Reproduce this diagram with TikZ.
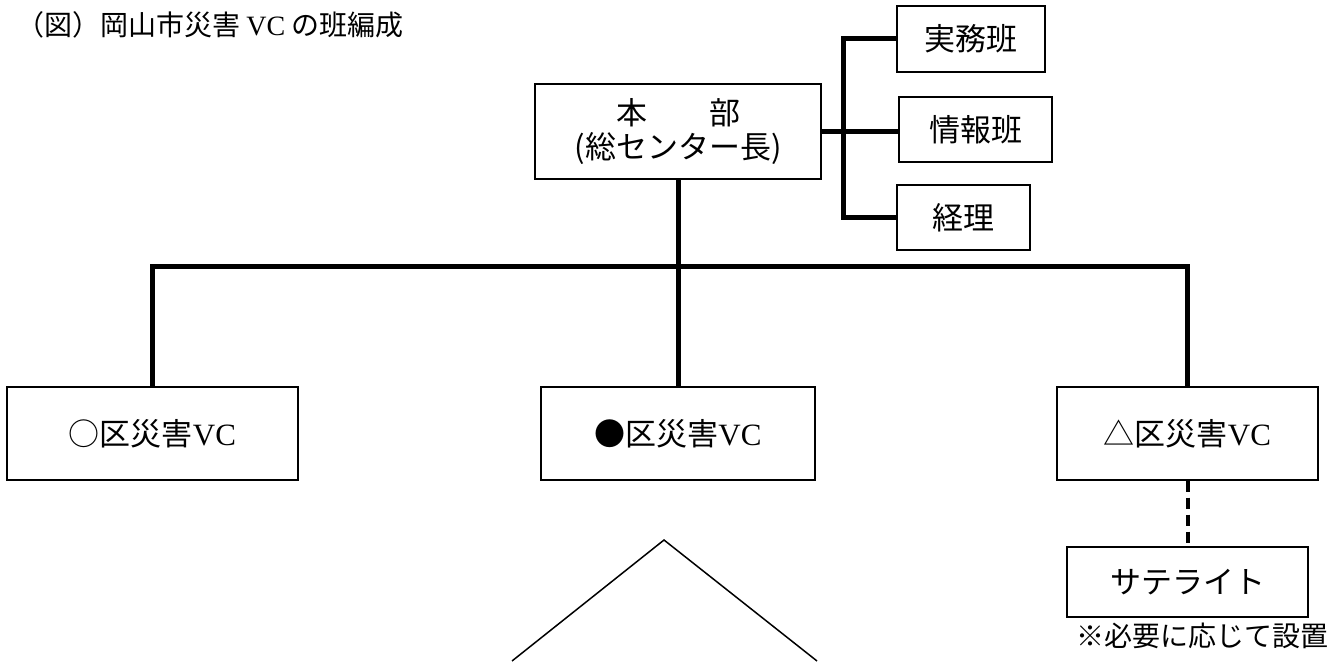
\documentclass[tikz,border=0pt]{standalone}
\usepackage{fontspec}
\setmainfont{Liberation Serif}
\newfontfamily\cjk{Noto Sans CJK JP}
\begin{document}
\begin{tikzpicture}[x=1pt,y=-1pt,
  box/.style={draw=black,line width=1.1pt,inner sep=0pt,align=center,font=\fontsize{31}{38}\selectfont},
  conn/.style={line width=5pt,line join=miter},
  dashline/.style={line width=4pt,dash pattern=on 11pt off 6pt},
  thin line/.style={line width=1.5pt}]
\useasboundingbox (0,0) rectangle (1337,661);
% title
\node[anchor=west,inner sep=0pt,font=\fontsize{28}{32}\selectfont] (title) at (16,25) {\cjk （図）岡山市災害 {\rmfamily VC} の班編成};
% headquarters
\node[box,minimum width=286pt,minimum height=95pt] (hq) at (678,131.5) {{\cjk 本　　部}\\[-4pt]{\cjk (総センター長)}};
\node[box,minimum width=148pt,minimum height=66pt] (jimu) at (971,39) {\cjk 実務班};
\node[box,minimum width=153pt,minimum height=65pt] (joho) at (975.5,129.5) {\cjk 情報班};
\node[box,minimum width=133pt,minimum height=65pt] (keiri) at (963.5,217.5) {\cjk 経理};
% ward VCs
\node[box,minimum width=291pt,minimum height=93pt] (ku1) at (152.5,433.5) {{\cjk ○区災害}VC};
\node[box,minimum width=274pt,minimum height=93pt] (ku2) at (678,433.5) {{\cjk ●区災害}VC};
\node[box,minimum width=261pt,minimum height=93pt] (ku3) at (1187.5,433.5) {{\cjk △区災害}VC};
\node[box,minimum width=241pt,minimum height=70pt] (sat) at (1187.5,582) {\cjk サテライト};
\node[inner sep=0pt,font=\fontsize{28}{32}\selectfont] (note) at (1202,636) {\cjk ※必要に応じて設置};
% connectors
\coordinate (bk) at (843,127);
\coordinate (bus) at (678,266);
\draw[conn] (hq.east) -- (hq.east -| joho.west);
\draw[conn] (jimu.west) -| (bk) |- (keiri.west);
\draw[conn] (hq.south) -- (ku2.north);
\draw[conn] (ku1.north) |- (bus) -| (ku3.north);
\draw[dashline] (ku3.south) -- (sat.north);
% partial triangle
\coordinate (tl) at (512,661);
\coordinate (tt) at (664,540);
\coordinate (tr) at (817,661);
\draw[thin line] (tl) -- (tt) -- (tr);
\end{tikzpicture}
\end{document}
